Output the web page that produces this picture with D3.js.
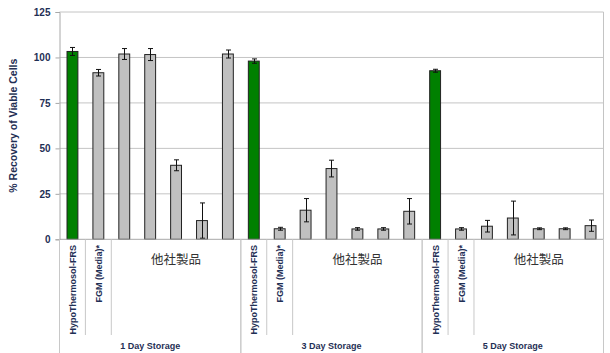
<!DOCTYPE html>
<html>
<head>
<meta charset="utf-8">
<script src="https://cdn.jsdelivr.net/npm/d3@7"></script>
<style>
  body { margin: 0; background: #fff; }
  svg { display: block; font-family: "Liberation Sans", Arial, sans-serif; }
</style>
</head>
<body>
<svg id="chart" width="610" height="353"></svg>
<script>
// data
const groups = ['1 Day Storage', '3 Day Storage', '5 Day Storage']
const products = ['HypoThermosol-FRS', 'FGM (Media)*', '他社製品', '他社製品', '他社製品', '他社製品', '他社製品']
const otherLabel = '他社製品'
const day1Values = [103.3, 91.6, 101.9, 101.6, 40.7, 10.3, 101.9]
const day1Errors = [2.2, 1.8, 3.0, 3.3, 3.0, 9.7, 2.2]
const day3Values = [98.0, 5.8, 16.0, 38.9, 5.7, 5.7, 15.4]
const day3Errors = [1.2, 0.8, 6.4, 4.6, 0.7, 0.7, 7.0]
const day5Values = [92.7, 5.7, 7.2, 11.7, 5.8, 5.8, 7.5]
const day5Errors = [0.8, 0.7, 3.2, 9.3, 0.5, 0.5, 3.1]
const yTicks = [0, 25, 50, 75, 100, 125]

const valuesByGroup = [day1Values, day3Values, day5Values]
const errorsByGroup = [day1Errors, day3Errors, day5Errors]

const rows = []
groups.forEach((g, gi) => {
  products.forEach((p, pi) => {
    rows.push({ key: gi + '-' + pi, group: g, gi, pi, product: p,
      value: valuesByGroup[gi][pi], err: errorsByGroup[gi][pi] })
  })
})

const svg = d3.select('#chart')
const margin = { left: 59.5, right: 6.5, top: 12, bottom: 114 }
const width = 610, height = 353
const textColor = '#1f2f55'

const x = d3.scaleBand()
  .domain(rows.map(d => d.key))
  .range([margin.left, width - margin.right])
  .paddingInner(0.58).paddingOuter(0.29)
const step = x.step()
const y = d3.scaleLinear().domain([0, 125]).range([239.3, margin.top])

// grid
svg.append('g')
  .selectAll('line')
  .data(yTicks.filter(t => t > 0))
  .enter().append('line')
  .attr('x1', margin.left).attr('x2', width - margin.right)
  .attr('y1', d => y(d)).attr('y2', d => y(d))
  .attr('stroke', '#c4c4c4').attr('stroke-width', 1)

// right frame
svg.append('line')
  .attr('x1', width - margin.right).attr('x2', width - margin.right)
  .attr('y1', y(125)).attr('y2', y(0))
  .attr('stroke', '#c4c4c4')

// y axis
const yAxis = svg.append('g')
  .attr('transform', `translate(${margin.left},0)`)
  .call(d3.axisLeft(y).tickValues(yTicks).tickSize(4).tickPadding(5))
yAxis.select('.domain').attr('stroke', '#a8a8a8')
yAxis.selectAll('.tick line').attr('stroke', '#a8a8a8')
yAxis.selectAll('text')
  .attr('fill', textColor).style('font-size', '10px').style('font-weight', 'bold')

svg.append('text')
  .attr('transform', `translate(17,${y(62.5)}) rotate(-90)`)
  .attr('text-anchor', 'middle')
  .attr('fill', textColor)
  .style('font-size', '10.5px').style('font-weight', 'bold')
  .text('% Recovery of Viable Cells')

// bars
svg.append('g')
  .selectAll('rect')
  .data(rows)
  .enter().append('rect')
  .attr('x', d => x(d.key))
  .attr('width', x.bandwidth())
  .attr('y', d => y(d.value))
  .attr('height', d => y(0) - y(d.value))
  .attr('fill', d => d.pi === 0 ? '#008000' : '#c0c0c0')
  .attr('stroke', '#222')
  .attr('stroke-width', 1)

// error bars
const eb = svg.append('g').attr('stroke', '#111').attr('stroke-width', 1)
rows.forEach(d => {
  const cx = Math.round(x(d.key) + x.bandwidth() / 2) + 0.5
  eb.append('line').attr('x1', cx).attr('x2', cx)
    .attr('y1', y(d.value + d.err)).attr('y2', y(d.value - d.err))
  ;[d.value + d.err, d.value - d.err].forEach(v => {
    eb.append('line').attr('x1', cx - 2.5).attr('x2', cx + 2.5)
      .attr('y1', y(v)).attr('y2', y(v))
  })
})

// x axis line
svg.append('line')
  .attr('x1', margin.left).attr('x2', width - margin.right)
  .attr('y1', y(0)).attr('y2', y(0))
  .attr('stroke', '#a8a8a8')

// category separators and labels
const groupStart = gi => margin.left + gi * 7 * step
const sep = svg.append('g').attr('stroke', '#c8c8c8').attr('stroke-width', 1)
groups.forEach((g, gi) => {
  const gx = groupStart(gi)
  ;[1, 2].forEach(k => {
    sep.append('line')
      .attr('x1', gx + k * step).attr('x2', gx + k * step)
      .attr('y1', y(0)).attr('y2', 335)
  })
  ;[gx, gx + 7 * step].forEach(px => {
    sep.append('line').attr('x1', px).attr('x2', px).attr('y1', y(0)).attr('y2', 353)
  })

  // rotated product labels
  ;[0, 1].forEach(pi => {
    const cx = gx + (pi + 0.5) * step
    svg.append('text')
      .attr('transform', `translate(${cx + 3.5},245) rotate(-90)`)
      .attr('text-anchor', 'end')
      .attr('fill', textColor)
      .style('font-size', '9px').style('font-weight', 'bold')
      .text(products[pi])
  })

  svg.append('text')
    .attr('x', gx + 4.5 * step)
    .attr('y', 264)
    .attr('text-anchor', 'middle')
    .attr('fill', '#333')
    .style('font-size', '12.5px')
    .style('font-family', '"Noto Sans CJK JP", sans-serif')
    .text(otherLabel)

  svg.append('text')
    .attr('x', gx + 3.5 * step)
    .attr('y', 349)
    .attr('text-anchor', 'middle')
    .attr('fill', textColor)
    .style('font-size', '9px').style('font-weight', 'bold')
    .text(g)
})
</script>
</body>
</html>
